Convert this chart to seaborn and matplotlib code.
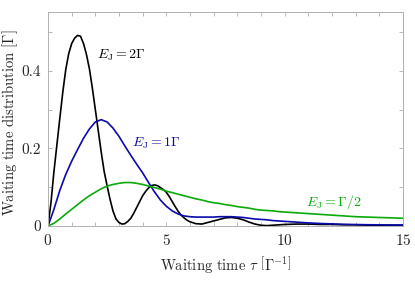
import numpy as np
import pandas as pd
import seaborn as sns
import matplotlib.pyplot as plt
from matplotlib.ticker import MultipleLocator

# Zeitgitter (in Einheiten von 1/Gamma)
tau = [0.0, 0.25, 0.5, 0.75, 1.0, 1.25, 1.5, 1.75, 2.0, 2.25, 2.5, 2.75,
       3.0, 3.25, 3.5, 3.75, 4.0, 4.25, 4.5, 4.75, 5.0, 5.25, 5.5, 5.75,
       6.0, 6.25, 6.5, 6.75, 7.0, 7.25, 7.5, 7.75, 8.0, 8.25, 8.5, 8.75,
       9.0, 9.25, 9.5, 9.75, 10.0, 10.5, 11.0, 11.5, 12.0, 12.5, 13.0,
       13.5, 14.0, 14.5, 15.0]

# feineres Gitter fuer die schnelle Oszillation bei E_J = 2 Gamma
tau_2g = [0.0, 0.125, 0.25, 0.375, 0.5, 0.625, 0.75, 0.875, 1.0, 1.125,
          1.25, 1.375, 1.5, 1.625, 1.75, 1.875, 2.0, 2.125, 2.25, 2.375,
          2.5, 2.625, 2.75, 2.875, 3.0, 3.125, 3.25, 3.375, 3.5, 3.625,
          3.75, 3.875, 4.0, 4.125, 4.25, 4.375, 4.5, 4.625, 4.75, 4.875,
          5.0, 5.125, 5.25, 5.375, 5.5, 5.625, 5.75, 5.875, 6.0, 6.25,
          6.5, 6.75, 7.0, 7.25, 7.5, 7.75, 8.0, 8.25, 8.5, 8.75, 9.0,
          9.25, 9.5, 9.75, 10.0, 10.5, 11.0, 11.5, 12.0, 12.5, 13.0,
          13.5, 14.0, 14.5, 15.0]

# E_J = 2 Gamma
w_2g = [0.000, 0.060, 0.140, 0.209, 0.278, 0.345, 0.403, 0.444, 0.470, 0.484,
        0.491, 0.489, 0.470, 0.442, 0.405, 0.355, 0.300, 0.245, 0.190, 0.140,
        0.103, 0.068, 0.038, 0.018, 0.009, 0.005, 0.006, 0.012, 0.020, 0.033,
        0.048, 0.063, 0.078, 0.089, 0.098, 0.104, 0.106, 0.104, 0.099, 0.094,
        0.087, 0.076, 0.063, 0.050, 0.038, 0.028, 0.021, 0.015, 0.011, 0.006,
        0.005, 0.009, 0.013, 0.017, 0.021, 0.022, 0.020, 0.016, 0.010, 0.005,
        0.002, 0.001, 0.002, 0.003, 0.004, 0.005, 0.005, 0.004, 0.004, 0.003,
        0.003, 0.002, 0.002, 0.002, 0.002]

# E_J = 1 Gamma
w_1g = [0.000, 0.043, 0.092, 0.133, 0.167, 0.197, 0.226, 0.250, 0.268, 0.274,
        0.268, 0.252, 0.231, 0.206, 0.182, 0.159, 0.137, 0.112, 0.088, 0.067,
        0.051, 0.039, 0.031, 0.026, 0.024, 0.023, 0.023, 0.023, 0.023, 0.024,
        0.024, 0.024, 0.023, 0.022, 0.020, 0.018, 0.017, 0.016, 0.014, 0.013,
        0.012, 0.010, 0.008, 0.0065, 0.0055, 0.0045, 0.0038, 0.0033, 0.003,
        0.0027, 0.0025]

# E_J = Gamma/2
w_hg = [0.000, 0.007, 0.018, 0.031, 0.043, 0.055, 0.067, 0.078, 0.087, 0.096,
        0.103, 0.107, 0.110, 0.112, 0.112, 0.110, 0.107, 0.103, 0.099, 0.095,
        0.090, 0.086, 0.082, 0.078, 0.074, 0.070, 0.067, 0.063, 0.060, 0.058,
        0.055, 0.053, 0.050, 0.048, 0.046, 0.043, 0.041, 0.040, 0.039, 0.037,
        0.036, 0.034, 0.032, 0.030, 0.028, 0.026, 0.024, 0.023, 0.022, 0.021,
        0.020]

etiquetas = ['2G', '1G', 'G/2']
colores = {'2G': '#000000', '1G': '#0a0aaa', 'G/2': '#0aaa0a'}

df = pd.concat([
    pd.DataFrame({'tau': tau_2g, 'w': w_2g, 'EJ': '2G'}),
    pd.DataFrame({'tau': tau, 'w': w_1g, 'EJ': '1G'}),
    pd.DataFrame({'tau': tau, 'w': w_hg, 'EJ': 'G/2'}),
], ignore_index=True)

sns.set_style('ticks')
plt.rcParams['font.family'] = 'serif'
plt.rcParams['font.serif'] = ['cmr10', 'DejaVu Serif']
plt.rcParams['mathtext.fontset'] = 'cm'
plt.rcParams['axes.formatter.use_mathtext'] = True

fig = plt.figure(figsize=(4.15, 2.81), dpi=100)
ax = fig.add_axes([0.1157, 0.1957, 0.855, 0.7625])

sns.lineplot(data=df, x='tau', y='w', hue='EJ', hue_order=etiquetas,
             palette=colores, linewidth=1.2, legend=False, ax=ax, sort=False)

ax.set_xlim(0, 15)
ax.set_ylim(0, 0.552)
ax.xaxis.set_major_locator(MultipleLocator(5))
ax.xaxis.set_minor_locator(MultipleLocator(1))
ax.yaxis.set_major_locator(MultipleLocator(0.2))
ax.yaxis.set_minor_locator(MultipleLocator(0.1))
ax.yaxis.set_major_formatter(lambda v, p: '0' if v == 0 else f'{v:.1f}')
ax.tick_params(which='both', direction='in', top=True, right=True,
               length=3, width=0.6, color='#b0b0b0', labelsize=11, pad=5)
for s in ax.spines.values():
    s.set_color('#b0b0b0')
    s.set_linewidth(0.7)

ax.set_xlabel(r'Waiting time $\tau$ $\left[\Gamma^{-1}\right]$', fontsize=10.5)
ax.set_ylabel(r'Waiting time distribution $[\Gamma]$', fontsize=10.5)
ax.yaxis.set_label_coords(-0.08, 0.483)

ax.text(2.07, 0.44, r'$E_\mathrm{J} = 2\Gamma$', color=colores['2G'],
        fontsize=10, va='center')
ax.text(3.55, 0.214, r'$E_\mathrm{J} = 1\Gamma$', color=colores['1G'],
        fontsize=10, va='center')
ax.text(10.9, 0.063, r'$E_\mathrm{J} = \Gamma/2$', color=colores['G/2'],
        fontsize=10, va='center')

plt.savefig('out.png', dpi=100)
